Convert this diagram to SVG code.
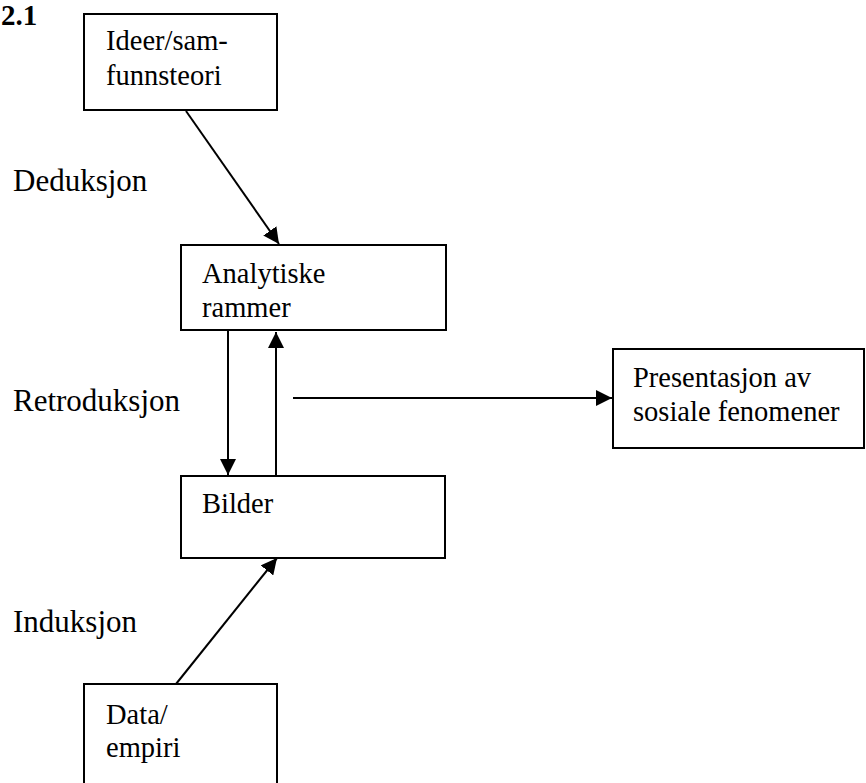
<svg xmlns="http://www.w3.org/2000/svg" width="866" height="783" viewBox="0 0 866 783">
<defs>
<style>
.box{fill:#fff;stroke:#000;stroke-width:2}
.bt{font-family:"Liberation Serif","Times New Roman",serif;font-size:28.5px;fill:#000}
.lb{font-family:"Liberation Serif","Times New Roman",serif;font-size:31px;fill:#000}
.ttl{font-family:"Liberation Serif","Times New Roman",serif;font-size:29px;font-weight:bold;fill:#000}
.c{stroke:#000;stroke-width:2;fill:none;marker-end:url(#ah)}
</style>
<marker id="ah" viewBox="0 0 10 10" refX="10" refY="5" markerWidth="8" markerHeight="8" markerUnits="strokeWidth" orient="auto">
<path d="M0,0 L10,5 L0,10 z" fill="#000"/>
</marker>
</defs>
<rect width="866" height="783" fill="#fff"/>
<text class="ttl" x="1" y="25">2.1</text>
<text class="lb" x="13" y="191">Deduksjon</text>
<text class="lb" x="13" y="411">Retroduksjon</text>
<text class="lb" x="13" y="632">Induksjon</text>
<g id="ideer">
<rect class="box" x="84" y="14" width="193" height="96"/>
<text class="bt" x="106" y="50">Ideer/sam-</text>
<text class="bt" x="106" y="85">funnsteori</text>
</g>
<g id="analytiske">
<rect class="box" x="181" y="245" width="265" height="85"/>
<text class="bt" x="202" y="283">Analytiske</text>
<text class="bt" x="202" y="317">rammer</text>
</g>
<g id="bilder">
<rect class="box" x="181" y="476" width="264" height="82"/>
<text class="bt" x="202" y="513">Bilder</text>
</g>
<g id="presentasjon">
<rect class="box" x="613" y="349" width="251" height="99"/>
<text class="bt" x="633" y="387">Presentasjon av</text>
<text class="bt" x="633" y="421">sosiale fenomener</text>
</g>
<g id="data">
<rect class="box" x="84" y="684" width="193" height="120"/>
<text class="bt" x="106" y="724">Data/</text>
<text class="bt" x="106" y="757">empiri</text>
</g>
<g id="connectors">
<line class="c" x1="186" y1="111" x2="279" y2="244"/>
<line class="c" x1="228" y1="331" x2="228" y2="475"/>
<line class="c" x1="276" y1="475" x2="276" y2="332"/>
<line class="c" x1="293" y1="398" x2="612" y2="398"/>
<line class="c" x1="176" y1="684" x2="277" y2="558"/>
</g>
</svg>
